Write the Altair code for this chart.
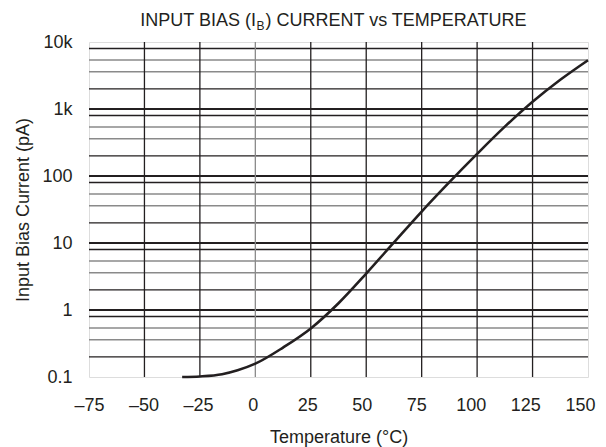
import altair as alt
import pandas as pd

# Curve
temps = [-33, -25, -15, -8, 0, 12.5, 25, 37.5, 50, 62.5, 75, 87.5, 100, 112.5, 125, 137.5, 150]
bias_pa = [0.1, 0.102, 0.11, 0.126, 0.158, 0.275, 0.53, 1.26, 3.5, 10.2, 29.5, 81, 214, 545, 1280, 2730, 5350]

x_ticks = [-75, -50, -25, 0, 25, 50, 75, 100, 125, 150]
y_ticks = [0.1, 1, 10, 100, 1000, 10000]
y_tick_labels = ["0.1", "1", "10", "100", "1k", "10k"]

# grid lines
decades = [1, 10, 100, 1000]
decade_bases = [0.1, 1, 10, 100, 1000]
minor_black = [8, 2]
minor_gray = [5.4, 3.6]
v_grid = [-50, -25, 0, 25, 50, 75, 100, 125]
v_grid_gray = [0]

title_parts = ["INPUT BIAS (I", "B", ") CURRENT vs TEMPERATURE"]

INK = "#231f20"
GRAY = "#8a8a8a"
FONT = "Liberation Sans"

xs = alt.Scale(domain=[-75, 150], nice=False, zero=False)
ys = alt.Scale(type="log", domain=[0.1, 10000], nice=False)

y_expr = " : ".join(f"datum.value == {v} ? '{l}'" for v, l in zip(y_ticks, y_tick_labels)) + " : ''"

xaxis = alt.Axis(values=x_ticks, title="Temperature (°C)", grid=False, ticks=False, domain=False,
                 labelFontSize=18, labelPadding=19, labelColor=INK, labelFont=FONT,
                 labelExpr="datum.value < 0 ? '\u2013' + format(-datum.value, 'd') : format(datum.value, 'd')",
                 labelOffset={"expr": "-(datum.value + 75) / 25 * 0.9"},
                 labelOverlap=False, labelFlush=False, labelBound=False,
                 titleFontSize=18, titleFontWeight="normal", titleColor=INK, titleFont=FONT,
                 titleX=249.5, titleY=60, titleBaseline="middle", titleAlign="center")
yaxis = alt.Axis(values=y_ticks, title="Input Bias Current (pA)", grid=False, ticks=False, domain=False,
                 labelFontSize=18, labelPadding=17, labelColor=INK, labelFont=FONT, labelExpr=y_expr,
                 labelOverlap=False, labelFlush=False, labelBound=False,
                 titleFontSize=18, titleFontWeight="normal", titleColor=INK, titleFont=FONT,
                 titleX=-65.5, titleY=167.5, titleAngle=-90, titleBaseline="middle", titleAlign="center")

hrows = []
for d in decades:
    hrows.append({"v": d, "c": INK, "w": 2.2})
for b in decade_bases:
    for m in minor_black:
        hrows.append({"v": b * m, "c": INK, "w": 1.3})
    for m in minor_gray:
        hrows.append({"v": b * m, "c": GRAY, "w": 1.5})
hdf = pd.DataFrame(hrows)

vdf = pd.DataFrame({"t": v_grid, "c": [GRAY if t in v_grid_gray else INK for t in v_grid]})

hgrid = alt.Chart(hdf).mark_rule().encode(
    y=alt.Y("v:Q", scale=ys, axis=yaxis),
    color=alt.Color("c:N", scale=None),
    strokeWidth=alt.StrokeWidth("w:Q", scale=None),
)
vgrid = alt.Chart(vdf).mark_rule(strokeWidth=1.3).encode(
    x=alt.X("t:Q", scale=xs, axis=xaxis),
    color=alt.Color("c:N", scale=None),
)

cdf = pd.DataFrame({"T": temps, "I": bias_pa})
curve = alt.Chart(cdf).mark_line(color=INK, strokeWidth=2.6, interpolate="monotone").encode(
    x=alt.X("T:Q", scale=xs, axis=xaxis),
    y=alt.Y("I:Q", scale=ys, axis=yaxis),
)

t1 = alt.Chart(pd.DataFrame({"s": [title_parts[0]]})).mark_text(
    align="right", baseline="middle", fontSize=18, font=FONT, color=INK
).encode(text="s:N", x=alt.value(167), y=alt.value(-21))
t2 = alt.Chart(pd.DataFrame({"s": [title_parts[1]]})).mark_text(
    align="left", baseline="middle", fontSize=12, font=FONT, color=INK
).encode(text="s:N", x=alt.value(167.5), y=alt.value(-16))
t3 = alt.Chart(pd.DataFrame({"s": [title_parts[2]]})).mark_text(
    align="left", baseline="middle", fontSize=18, font=FONT, color=INK
).encode(text="s:N", x=alt.value(176.5), y=alt.value(-21))

chart = alt.layer(hgrid, vgrid, curve, t1, t2, t3).properties(
    width=499, height=335,
    padding={"left": 81, "top": 34, "right": 10, "bottom": 70},
    autosize="none",
).configure_view(stroke=INK, strokeWidth=3).configure(font=FONT)

chart.save("out.html", embed_options={"renderer": "svg", "actions": False})
